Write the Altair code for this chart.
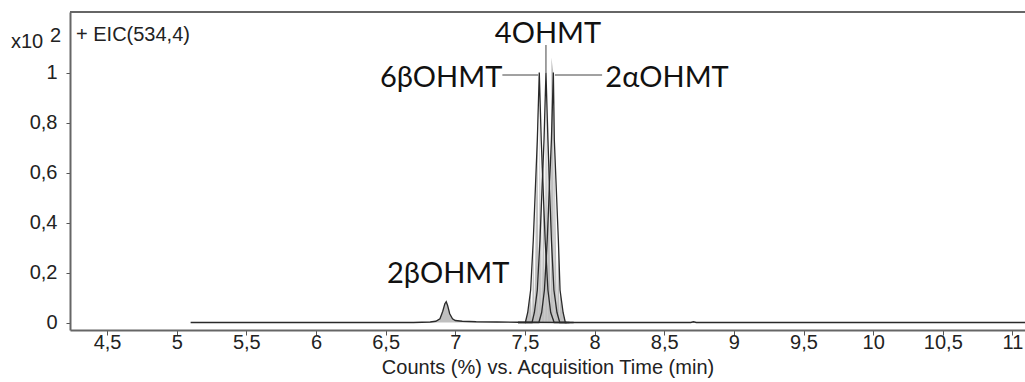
import altair as alt
import pandas as pd

# Extracted ion chromatogram EIC(534,4): relative counts (x10^2 %) vs. retention time (min)

# 2beta-OHMT trace (runs along the whole baseline)
t_2b = [5.10, 6.70, 6.82, 6.86, 6.89, 6.91, 6.925, 6.935, 6.945, 6.96, 6.98, 7.00, 7.05, 7.15, 7.30, 7.45, 7.80, 8.69, 8.71, 8.73, 11.10]
v_2b = [0.0, 0.0, 0.002, 0.005, 0.015, 0.045, 0.075, 0.083, 0.068, 0.035, 0.015, 0.008, 0.005, 0.003, 0.002, 0.001, 0.0, 0.0, 0.003, 0.0, 0.0]

# 6beta-OHMT trace
t_6b = [7.45, 7.503, 7.52, 7.541, 7.56, 7.589, 7.603, 7.617, 7.645, 7.665, 7.685, 7.71, 7.80]
v_6b = [0.0, 0.0, 0.04, 0.13, 0.33, 0.73, 1.0, 0.73, 0.33, 0.13, 0.04, 0.0, 0.0]

# 4-OHMT trace
t_4 = [7.45, 7.551, 7.568, 7.589, 7.608, 7.637, 7.651, 7.665, 7.69, 7.708, 7.73, 7.75, 7.82]
v_4 = [0.0, 0.0, 0.04, 0.13, 0.33, 0.73, 1.0, 0.73, 0.33, 0.13, 0.04, 0.0, 0.0]

# 2alpha-OHMT trace
t_2a = [7.50, 7.60, 7.62, 7.64, 7.66, 7.69, 7.704, 7.711, 7.74, 7.752, 7.774, 7.79, 7.85]
v_2a = [0.0, 0.0, 0.04, 0.13, 0.33, 0.73, 1.0, 0.73, 0.33, 0.13, 0.04, 0.0, 0.0]

# Peak labels with apex time and apex height
labels = ["2βOHMT", "6βOHMT", "4OHMT", "2αOHMT"]
apex_t = [6.935, 7.603, 7.651, 7.704]
apex_v = [0.083, 1.0, 1.0, 1.0]

x_ticks = [4.5, 5, 5.5, 6, 6.5, 7, 7.5, 8, 8.5, 9, 9.5, 10, 10.5, 11]
y_ticks = [0, 0.2, 0.4, 0.6, 0.8, 1]

traces = pd.concat([
    pd.DataFrame({"trace": name, "t": t, "v": v})
    for name, t, v in [("2βOHMT", t_2b, v_2b), ("6βOHMT", t_6b, v_6b),
                       ("4OHMT", t_4, v_4), ("2αOHMT", t_2a, v_2a)]
])
peaks = pd.DataFrame({"label": labels, "t": apex_t, "v": apex_v})
single = pd.DataFrame({"row": [0]})

W, H = 955, 318
comma = "replace(format(datum.value, '.1~f'), '.', ',')"

x = alt.X("t:Q",
          scale=alt.Scale(domain=[4.234, 11.09], nice=False, zero=False),
          axis=alt.Axis(values=x_ticks, labelExpr=comma, grid=False,
                        title="Counts (%) vs. Acquisition Time (min)",
                        tickSize=5, labelPadding=-3, titlePadding=5))
y = alt.Y("v:Q",
          scale=alt.Scale(domain=[-0.03, 1.242], nice=False, zero=False),
          axis=alt.Axis(values=y_ticks, labelExpr=comma, grid=False, title=None,
                        tickSize=4, labelPadding=9))

base = alt.Chart(traces)
areas = base.mark_area(color="#8a8a8a", opacity=0.55).encode(x=x, y=y, detail="trace:N")
lines = base.mark_line(color="#2a2a2a", strokeWidth=1.3).encode(x="t:Q", y="v:Q", detail="trace:N")


def peak_label(name, align, dx, dy):
    return alt.Chart(peaks).transform_filter(alt.datum.label == name).mark_text(
        font="Lato", fontSize=29, fontWeight="normal", color="#111", align=align,
        baseline="alphabetic", dx=dx, dy=dy).encode(x="t:Q", y="v:Q", text="label:N")


texts = (peak_label("2βOHMT", "center", 2, -19)
         + peak_label("6βOHMT", "right", -37, 14)
         + peak_label("4OHMT", "center", 2, -30)
         + peak_label("2αOHMT", "left", 52, 14))

# Leader lines from labels to the apexes
leaders_h = alt.Chart(peaks).transform_filter(
    (alt.datum.label == "6βOHMT") | (alt.datum.label == "2αOHMT")
).transform_calculate(
    x1="datum.label == '6βOHMT' ? datum.t - 0.265 : datum.t + 0.011",
    x2="datum.label == '6βOHMT' ? datum.t - 0.008 : datum.t + 0.35",
    yy="datum.v - 0.01",
).mark_rule(color="#444", strokeWidth=1).encode(x="x1:Q", x2="x2:Q", y="yy:Q")

leader_v = alt.Chart(peaks).transform_filter(alt.datum.label == "4OHMT").transform_calculate(
    ytop="datum.v + 0.11"
).mark_rule(color="#444", strokeWidth=1).encode(x="t:Q", y="v:Q", y2="ytop:Q")

# Top frame line
frame_top = alt.Chart(single).mark_rule(color="#666", strokeWidth=2).encode(
    x=alt.value(0), x2=alt.value(W), y=alt.value(0))

# Scale factor and trace name
corner = alt.Chart(single).mark_text(font="Liberation Sans", fontSize=20, fontWeight="normal",
                                     color="#222", align="left", baseline="alphabetic")
x10 = corner.encode(x=alt.value(-59), y=alt.value(36), text=alt.value("x10"))
sup = corner.encode(x=alt.value(-20), y=alt.value(30), text=alt.value("2"))
eic = corner.encode(x=alt.value(6), y=alt.value(29), text=alt.value("+ EIC(534,4)"))

chart = alt.layer(
    areas, lines, leaders_h, leader_v, texts, frame_top, x10, sup, eic
).properties(
    width=W, height=H,
    autosize=alt.AutoSizeParams(type="none"),
    padding={"left": 70, "top": 12, "right": 0, "bottom": 52},
).configure_view(
    stroke=None
).configure_axis(
    labelFont="Liberation Sans", labelFontSize=20, labelColor="#222",
    titleFont="Liberation Sans", titleFontSize=20, titleColor="#222", titleFontWeight="normal",
    domainColor="#666", domainWidth=2, tickColor="#555", tickWidth=1,
)

chart.save("out.html", embed_options={"renderer": "svg", "actions": False})
